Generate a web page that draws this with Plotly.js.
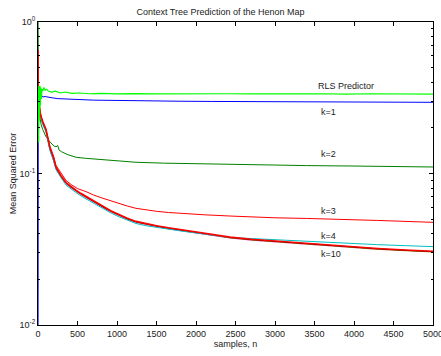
<!DOCTYPE html>
<html>
<head>
<meta charset="utf-8">
<script src="https://cdn.plot.ly/plotly-3.0.1.min.js"></script>
<style>html,body{margin:0;padding:0;background:#fff;}#chart{width:441px;height:356px;}</style>
</head>
<body>
<div id="chart"></div>
<script>
// ---- data ----
var rlsN = [1, 2, 3, 4, 6, 8, 10, 13, 16, 20, 25, 30, 36, 42, 50, 60, 75, 90, 110, 130, 170, 220, 280, 350, 430, 520, 650, 800, 1000, 1200, 1500, 1800, 2100, 2400, 2700, 3000, 3300, 3600, 3900, 4200, 4500, 4800, 5000];
var rlsV = [0.30, 0.20, 0.34, 0.18, 0.36, 0.16, 0.38, 0.22, 0.37, 0.25, 0.38, 0.28, 0.37, 0.31, 0.36, 0.35, 0.37, 0.355, 0.36, 0.35, 0.345, 0.35, 0.34, 0.345, 0.338, 0.34, 0.336, 0.338, 0.335, 0.337, 0.335, 0.336, 0.334, 0.336, 0.335, 0.334, 0.335, 0.336, 0.334, 0.336, 0.335, 0.334, 0.334];

var k1N = [1, 2, 4, 8, 15, 25, 40, 60, 90, 130, 180, 250, 350, 500, 700, 900, 1200, 1500, 1800, 2200, 2600, 3000, 3500, 4000, 4500, 5000];
var k1V = [0.009, 0.30, 0.34, 0.32, 0.33, 0.325, 0.33, 0.32, 0.322, 0.318, 0.316, 0.312, 0.31, 0.308, 0.305, 0.304, 0.302, 0.301, 0.300, 0.299, 0.298, 0.297, 0.296, 0.296, 0.295, 0.295];

var k2N = [1, 2, 4, 8, 15, 25, 40, 60, 101, 150, 200, 228, 250, 266, 300, 380, 481, 600, 823, 1000, 1240, 1600, 2100, 2500, 3000, 3400, 4000, 4500, 5000];
var k2V = [1.0, 0.62, 0.35, 0.28, 0.25, 0.23, 0.21, 0.195, 0.175, 0.162, 0.152, 0.150, 0.153, 0.143, 0.139, 0.133, 0.128, 0.126, 0.123, 0.121, 0.1186, 0.117, 0.1155, 0.1145, 0.1135, 0.1128, 0.112, 0.111, 0.1104];

var k3N = [1, 2, 4, 7, 12, 20, 35, 60, 101, 150, 194, 228, 290, 354, 420, 500, 608, 700, 823, 920, 1025, 1130, 1240, 1370, 1500, 1650, 1800, 2100, 2430, 2700, 3000, 3400, 3700, 4300, 5000];
var k3V = [0.22, 0.65, 0.45, 0.33, 0.30, 0.27, 0.245, 0.22, 0.196, 0.151, 0.131, 0.113, 0.1, 0.09, 0.0845, 0.0795, 0.0759, 0.0722, 0.0686, 0.066, 0.0636, 0.061, 0.0589, 0.0575, 0.0563, 0.0553, 0.0546, 0.0534, 0.0524, 0.0516, 0.051, 0.0505, 0.0501, 0.049, 0.0476];

var bN = [1, 3, 6, 10, 20, 35, 60, 101, 150, 194, 228, 290, 354, 420, 480, 540, 608, 700, 823, 920, 1025, 1130, 1240, 1370, 1500, 1650, 1800, 1950, 2100, 2270, 2430, 2700, 3000, 3400, 3700, 4000, 4300, 4650, 5000];
var k10V = [0.31, 0.37, 0.32, 0.29, 0.26, 0.24, 0.22, 0.195, 0.149, 0.129, 0.110, 0.097, 0.0872, 0.0818, 0.0776, 0.074, 0.0706, 0.066, 0.0605, 0.0568, 0.0536, 0.0506, 0.0483, 0.0466, 0.0452, 0.0438, 0.0426, 0.0414, 0.0403, 0.0391, 0.0380, 0.0368, 0.0358, 0.0345, 0.0335, 0.0327, 0.032, 0.0313, 0.0307];
var k7V = [0.29, 0.35, 0.31, 0.28, 0.256, 0.236, 0.216, 0.193, 0.147, 0.127, 0.109, 0.0962, 0.0866, 0.0812, 0.0771, 0.0735, 0.0701, 0.0655, 0.0601, 0.0565, 0.0533, 0.0503, 0.048, 0.0463, 0.045, 0.0436, 0.0424, 0.0412, 0.0401, 0.0389, 0.0378, 0.0366, 0.0356, 0.0343, 0.0333, 0.0325, 0.0318, 0.0311, 0.0305];
var k6V = [0.28, 0.34, 0.30, 0.275, 0.252, 0.232, 0.213, 0.192, 0.146, 0.126, 0.1085, 0.0958, 0.0862, 0.0808, 0.0766, 0.0731, 0.0697, 0.0652, 0.0598, 0.0562, 0.0531, 0.0501, 0.0478, 0.0461, 0.0448, 0.0434, 0.0422, 0.041, 0.0399, 0.0387, 0.0376, 0.0364, 0.0354, 0.0341, 0.0331, 0.0323, 0.0316, 0.0309, 0.0303];
var k5V = [0.30, 0.36, 0.31, 0.28, 0.255, 0.235, 0.215, 0.191, 0.145, 0.125, 0.108, 0.0955, 0.0857, 0.0803, 0.0762, 0.0727, 0.0693, 0.0648, 0.0595, 0.0559, 0.0528, 0.0498, 0.0476, 0.0459, 0.0446, 0.0432, 0.042, 0.0408, 0.0398, 0.0386, 0.0375, 0.0363, 0.0353, 0.0341, 0.0331, 0.0323, 0.0316, 0.031, 0.0304];
var k4V = [0.26, 0.33, 0.29, 0.27, 0.25, 0.23, 0.21, 0.188, 0.142, 0.123, 0.106, 0.094, 0.084, 0.0789, 0.0748, 0.0714, 0.068, 0.0637, 0.0585, 0.055, 0.0518, 0.0491, 0.0468, 0.0452, 0.044, 0.0428, 0.0418, 0.0408, 0.0399, 0.0388, 0.0378, 0.0372, 0.0365, 0.0357, 0.035, 0.0345, 0.0339, 0.0334, 0.0329];

var xTicks = [0, 500, 1000, 1500, 2000, 2500, 3000, 3500, 4000, 4500, 5000];
var yTicks = [0.01, 0.1, 1];
var yTickText = ['10<sup>-2</sup>', '10<sup>-1</sup>', '10<sup>0</sup>'];
var yMinor = [0.02, 0.03, 0.04, 0.05, 0.06, 0.07, 0.08, 0.09, 0.2, 0.3, 0.4, 0.5, 0.6, 0.7, 0.8, 0.9];

var labels = [
  {text: 'RLS Predictor', n: 3520, v: 0.378},
  {text: 'k=1', n: 3560, v: 0.255},
  {text: 'k=2', n: 3560, v: 0.1345},
  {text: 'k=3', n: 3560, v: 0.0565},
  {text: 'k=4', n: 3560, v: 0.0387},
  {text: 'k=10', n: 3560, v: 0.0294}
];

function tr(x, y, color, w) {
  return {x: x, y: y, type: 'scatter', mode: 'lines', line: {color: color, width: w || 1}, hoverinfo: 'skip'};
}

var traces = [
  tr(k2N, k2V, '#008000', 1),
  tr(k3N, k3V, '#ff0000', 1),
  tr(bN, k5V, '#ff00ff', 1),
  tr(bN, k6V, '#bfbf00', 1),
  tr(bN, k7V, '#000000', 1),
  tr(bN, k4V, '#00bfbf', 1),
  tr(bN, k10V, '#ff0000', 1.6),
  tr(k1N, k1V, '#0000ff', 1),
  tr(rlsN, rlsV, '#00ff00', 1.2)
];

var font = {family: 'Liberation Sans, Arial, sans-serif', size: 9, color: '#222'};

var layout = {
  width: 441, height: 356,
  margin: {l: 38, r: 8, t: 22, b: 31},
  paper_bgcolor: '#fff', plot_bgcolor: '#fff',
  showlegend: false,
  font: font,
  title: {text: 'Context Tree Prediction of the Henon Map', x: 0.5, xanchor: 'center', y: 0.966, yanchor: 'middle', font: {family: font.family, size: 9, color: '#222'}},
  xaxis: {
    range: [0, 5000], tickvals: xTicks, ticks: 'inside', ticklen: 4, tickcolor: '#000',
    showline: true, linecolor: '#000', linewidth: 1, mirror: 'ticks', showgrid: false, zeroline: false,
    tickfont: font, ticklabeloverflow: 'allow',
    title: {text: 'samples, n', font: font, standoff: 2}
  },
  yaxis: {
    type: 'log', range: [-2, 0], tickvals: yTicks, ticktext: yTickText, ticks: 'inside', ticklen: 4, tickcolor: '#000',
    showline: true, linecolor: '#000', linewidth: 1, mirror: 'ticks', showgrid: false, zeroline: false,
    tickfont: font,
    minor: {tickmode: 'array', tickvals: yMinor, ticks: 'inside', ticklen: 2, tickcolor: '#000', showgrid: false},
    title: {text: 'Mean Squared Error', font: font, standoff: 1}
  },
  annotations: labels.map(function (L) {
    return {x: L.n, y: Math.log10(L.v), xref: 'x', yref: 'y', text: L.text, showarrow: false, xanchor: 'left', yanchor: 'middle', font: font};
  })
};

Plotly.newPlot('chart', traces, layout, {staticPlot: true, displayModeBar: false});
</script>
</body>
</html>
